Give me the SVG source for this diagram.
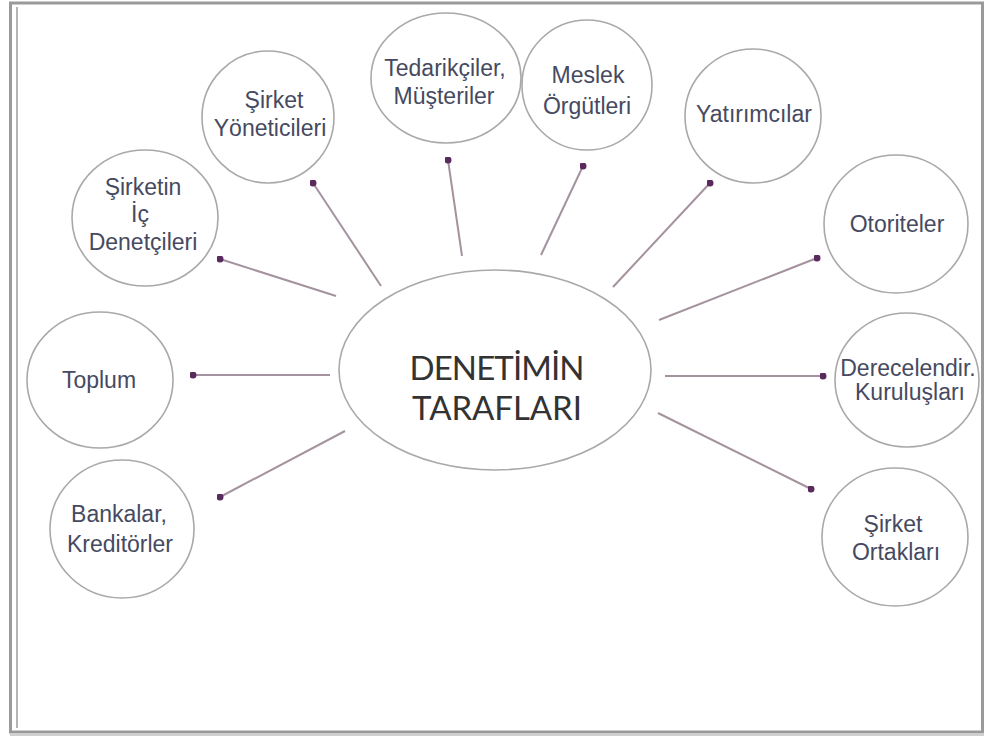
<svg xmlns="http://www.w3.org/2000/svg" width="993" height="740" viewBox="0 0 993 740">
<defs>
<style>
.node ellipse{fill:#fff;stroke:#a9a9a9;stroke-width:1.6}
.lbl{font-family:"Liberation Sans",Arial,sans-serif;font-size:23px;fill:#464a60;text-anchor:middle}
.title{font-family:Lato,"Open Sans","Liberation Sans",sans-serif;font-size:33px;fill:#333;text-anchor:middle}
.conn line{stroke:#a5929f;stroke-width:2}
</style>
<marker id="dot" viewBox="0 0 10 10" refX="5" refY="5" markerWidth="3.5" markerHeight="3.5" markerUnits="strokeWidth">
<circle cx="5" cy="5" r="5" fill="#5a2a5e"/>
</marker>
</defs>
<rect width="993" height="740" fill="#fff"/>
<rect x="10.5" y="3" width="972" height="729" fill="none" stroke="#9a9a9a" stroke-width="3"/>
<line x1="17" y1="7" x2="17" y2="728" stroke="#b5b5b5" stroke-width="2"/>
<line x1="10" y1="735" x2="984" y2="735" stroke="#d0d0d0" stroke-width="2"/>

<g class="conn">
<line x1="336" y1="296" x2="220" y2="259" marker-end="url(#dot)"/>
<line x1="381" y1="286" x2="313" y2="183" marker-end="url(#dot)"/>
<line x1="462" y1="256" x2="448" y2="160" marker-end="url(#dot)"/>
<line x1="541" y1="255" x2="583" y2="166" marker-end="url(#dot)"/>
<line x1="613" y1="287" x2="710" y2="183" marker-end="url(#dot)"/>
<line x1="659" y1="320" x2="817" y2="258" marker-end="url(#dot)"/>
<line x1="665" y1="376" x2="823" y2="376" marker-end="url(#dot)"/>
<line x1="658" y1="413" x2="811" y2="489" marker-end="url(#dot)"/>
<line x1="330" y1="375" x2="193" y2="375" marker-end="url(#dot)"/>
<line x1="345" y1="431" x2="220" y2="497" marker-end="url(#dot)"/>
</g>

<g id="center" class="node">
<ellipse cx="495" cy="370" rx="156" ry="100"/>
<text class="title" x="497" y="380" textLength="175">DENETİMİN</text>
<text class="title" x="497" y="420" textLength="170">TARAFLARI</text>
</g>

<g id="ic-denetciler" class="node">
<ellipse cx="145" cy="218" rx="73" ry="68"/>
<text class="lbl" x="143" y="195">Şirketin</text>
<text class="lbl" x="140" y="222">İç</text>
<text class="lbl" x="143" y="250">Denetçileri</text>
</g>

<g id="yoneticiler" class="node">
<ellipse cx="268" cy="117" rx="66" ry="66"/>
<text class="lbl" x="274" y="108">Şirket</text>
<text class="lbl" x="270" y="136">Yöneticileri</text>
</g>

<g id="tedarikciler" class="node">
<ellipse cx="446" cy="78" rx="75" ry="65"/>
<text class="lbl" x="445" y="76">Tedarikçiler,</text>
<text class="lbl" x="444" y="104">Müşteriler</text>
</g>

<g id="meslek" class="node">
<ellipse cx="587" cy="85" rx="65" ry="65"/>
<text class="lbl" x="588" y="83">Meslek</text>
<text class="lbl" x="587" y="114">Örgütleri</text>
</g>

<g id="yatirimcilar" class="node">
<ellipse cx="753" cy="116" rx="68" ry="67"/>
<text class="lbl" x="754" y="122">Yatırımcılar</text>
</g>

<g id="otoriteler" class="node">
<ellipse cx="896" cy="224" rx="72" ry="69"/>
<text class="lbl" x="897" y="232">Otoriteler</text>
</g>

<g id="derecelendirme" class="node">
<ellipse cx="907" cy="380" rx="72" ry="67"/>
<text class="lbl" x="908" y="376">Derecelendir.</text>
<text class="lbl" x="910" y="400">Kuruluşları</text>
</g>

<g id="ortaklar" class="node">
<ellipse cx="895" cy="537" rx="73" ry="69"/>
<text class="lbl" x="893" y="532">Şirket</text>
<text class="lbl" x="896" y="560">Ortakları</text>
</g>

<g id="toplum" class="node">
<ellipse cx="100" cy="380" rx="73" ry="68"/>
<text class="lbl" x="99" y="388">Toplum</text>
</g>

<g id="bankalar" class="node">
<ellipse cx="122" cy="529" rx="72" ry="69"/>
<text class="lbl" x="119" y="522">Bankalar,</text>
<text class="lbl" x="120" y="552">Kreditörler</text>
</g>
</svg>
